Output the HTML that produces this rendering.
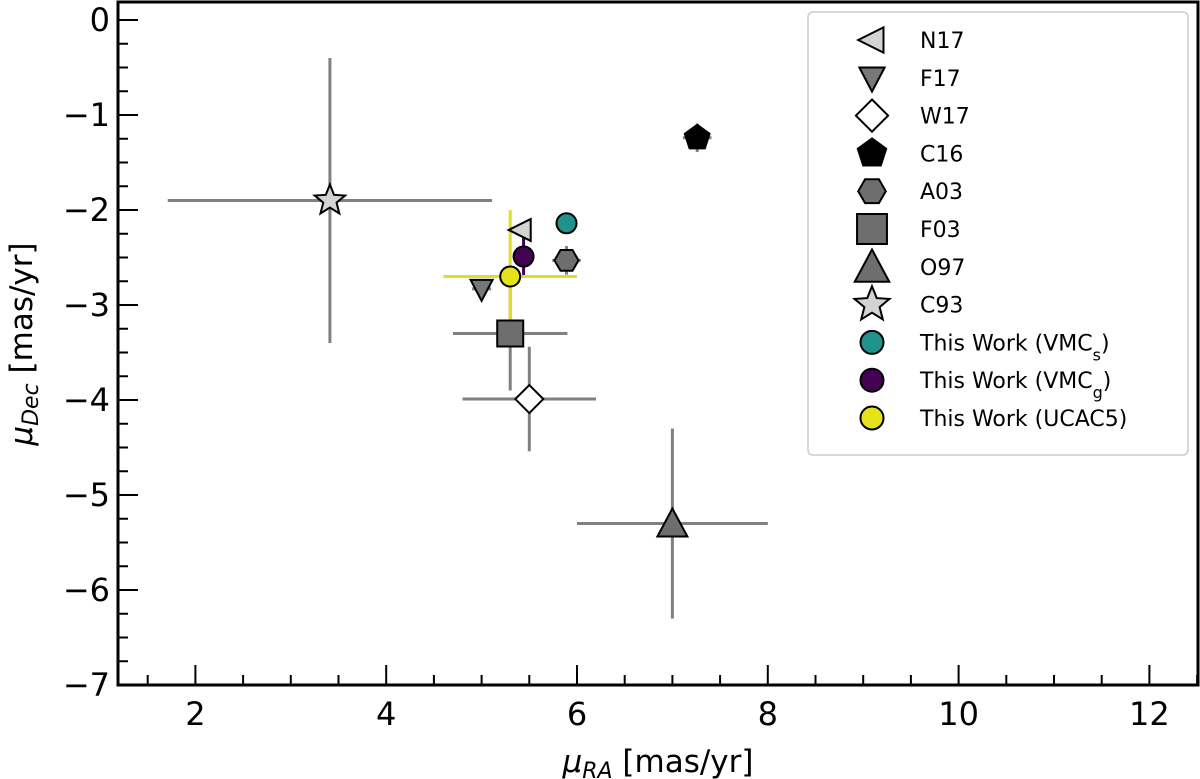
<!DOCTYPE html>
<html><head><meta charset="utf-8"><style>
html,body{margin:0;padding:0;background:#fff;}
svg{display:block;font-family:"DejaVu Sans","Liberation Sans",sans-serif;}
</style></head><body>
<svg id="chart" width="1200" height="779" viewBox="0 0 1200 779" xmlns="http://www.w3.org/2000/svg">
<g id="errs"></g>
<g id="marks"></g>
<g id="axes"></g>
<g id="legend"></g>
</svg>
<script>
const labels = ["N17","F17","W17","C16","A03","F03","O97","C93","VMCs","VMCg","UCAC5"];
const raVals = [5.41,5.0,5.5,7.26,5.89,5.3,7.0,3.41,5.89,5.44,5.3];
const decVals = [-2.21,-2.83,-3.99,-1.24,-2.53,-3.3,-5.3,-1.9,-2.14,-2.49,-2.7];
const raErr = [0,0.1,0.7,0.15,0.15,0.6,1.0,1.7,0,0.05,0.7];
const decErr = [0,0,0.55,0.15,0.15,0.6,1.0,1.5,0,0.2,0.7];
const xTicks = [2,4,6,8,10,12];
const yTicks = [0,-1,-2,-3,-4,-5,-6,-7];
const legendText = ["N17","F17","W17","C16","A03","F03","O97","C93","This Work (VMC<tspan baseline-shift='sub' font-size='16'>s</tspan>)","This Work (VMC<tspan baseline-shift='sub' font-size='16'>g</tspan>)","This Work (UCAC5)"];

const NS="http://www.w3.org/2000/svg";
const L=118,R=1198,T=2,B=685;
const xs=v=>195.4+(v-2)*95.4;
const ys=v=>20-v*95;
function mk(tag,attrs,parent){const e=document.createElementNS(NS,tag);for(const k in attrs)e.setAttribute(k,attrs[k]);parent.appendChild(e);return e;}
const styles=[
 {shape:"triL",fill:"#d3d3d3",err:"#808080"},
 {shape:"triD",fill:"#777",err:"#808080"},
 {shape:"diamond",fill:"#fff",err:"#808080"},
 {shape:"pent",fill:"#000",err:"#808080"},
 {shape:"hex",fill:"#6e6e6e",err:"#808080"},
 {shape:"square",fill:"#6e6e6e",err:"#808080"},
 {shape:"triU",fill:"#6e6e6e",err:"#808080"},
 {shape:"star",fill:"#d3d3d3",err:"#808080"},
 {shape:"circle",fill:"#21918c",err:"#21918c"},
 {shape:"circle",fill:"#440154",err:"#440154"},
 {shape:"circle",fill:"#e6e31c",err:"#e0e020"}
];
function poly(n,r,rot){let p=[];for(let i=0;i<n;i++){const a=rot+i*2*Math.PI/n;p.push([Math.cos(a)*r,Math.sin(a)*r]);}return p;}
function shapePts(s){
 switch(s){
  case "triL":return [[-12,0],[10,-11],[10,11]];
  case "triD":return [[-11,-9],[11,-9],[0,12]];
  case "triU":return [[-15,13],[15,13],[0,-15]];
  case "diamond":return [[0,-14],[14,0],[0,14],[-14,0]];
  case "square":return [[-13,-13],[13,-13],[13,13],[-13,13]];
  case "pent":return poly(5,13,-Math.PI/2);
  case "hex":return poly(6,12,0);
  case "star":{let p=[];for(let i=0;i<10;i++){const r=i%2?7:16;const a=-Math.PI/2+i*Math.PI/5;p.push([Math.cos(a)*r,Math.sin(a)*r]);}return p;}
 }
}
function drawMarker(st,cx,cy,parent,name,sc){
 sc=sc||1;
 let e;
 if(st.shape==="circle")e=mk("circle",{cx,cy,r:10*sc,fill:st.fill,stroke:"#000","stroke-width":2},parent);
 else e=mk("polygon",{points:shapePts(st.shape).map(p=>(cx+p[0]*sc)+","+(cy+p[1]*sc)).join(" "),fill:st.fill,stroke:"#000","stroke-width":2,"stroke-linejoin":"miter"},parent);
 
 
}
const errs=document.getElementById("errs"),marks=document.getElementById("marks");
labels.forEach((lb,i)=>{
 const cx=xs(raVals[i]),cy=ys(decVals[i]),st=styles[i];
 if(raErr[i]>0){const l=mk("line",{x1:xs(raVals[i]-raErr[i]),x2:xs(raVals[i]+raErr[i]),y1:cy,y2:cy,stroke:st.err,"stroke-width":3},errs);
  
  }
 if(decErr[i]>0){const l=mk("line",{x1:cx,x2:cx,y1:ys(decVals[i]+decErr[i]),y2:ys(decVals[i]-decErr[i]),stroke:st.err,"stroke-width":3},errs);
  
  }
});
labels.forEach((lb,i)=>{drawMarker(styles[i],xs(raVals[i]),ys(decVals[i]),marks,'point-'+lb.toLowerCase());});

const ax=document.getElementById("axes");
const fr=mk("rect",{x:L,y:T,width:R-L,height:B-T,fill:"none",stroke:"#000","stroke-width":3},ax);


for(let v=1.5;v<=12.5;v+=0.5){const x=xs(v);if(x<L||x>R)continue;const major=Math.abs(v-Math.round(v/2)*2)<1e-6;
 mk("line",{x1:x,x2:x,y1:B,y2:B-(major?20:10),stroke:"#000","stroke-width":2},ax);}
for(let v=-7;v<=0.001;v+=0.25){const y=ys(v);const major=Math.abs(v-Math.round(v))<1e-6;
 mk("line",{x1:L,x2:L+(major?20:10),y1:y,y2:y,stroke:"#000","stroke-width":2},ax);}
xTicks.forEach(v=>{const t=mk("text",{x:xs(v),y:B+40,"text-anchor":"middle","font-size":32,fill:"#000"},ax);t.textContent=v;
 
 });
yTicks.forEach(v=>{const t=mk("text",{x:L-8,y:ys(v)+11,"text-anchor":"end","font-size":32,fill:"#000"},ax);t.textContent=(v<0?"\u2212"+(-v):v);
 
 });
const xt=mk("text",{x:658,y:772,"text-anchor":"middle","font-size":31},ax);
xt.innerHTML="<tspan font-style='italic'>μ</tspan><tspan font-style='italic' font-size='22' dy='6'>RA</tspan><tspan dy='-6'> [mas/yr]</tspan>";


const yt=mk("text",{transform:"translate(32,344) rotate(-90)","text-anchor":"middle","font-size":31},ax);
yt.innerHTML="<tspan font-style='italic'>μ</tspan><tspan font-style='italic' font-size='22' dy='6'>Dec</tspan><tspan dy='-6'> [mas/yr]</tspan>";



const lg=document.getElementById("legend");
const box=mk("rect",{x:808,y:12,width:380,height:443,rx:5,fill:"#fff",stroke:"#ccc","stroke-width":1.5},lg);


labels.forEach((lb,i)=>{const y=40+i*37.8;
 drawMarker(styles[i],872,y,lg,'legend-marker-'+lb.toLowerCase(),1.15);
 const t=mk("text",{x:920,y:y+8,"font-size":22,fill:"#000"},lg);t.innerHTML=legendText[i];
 
 });
</script>
</body></html>
